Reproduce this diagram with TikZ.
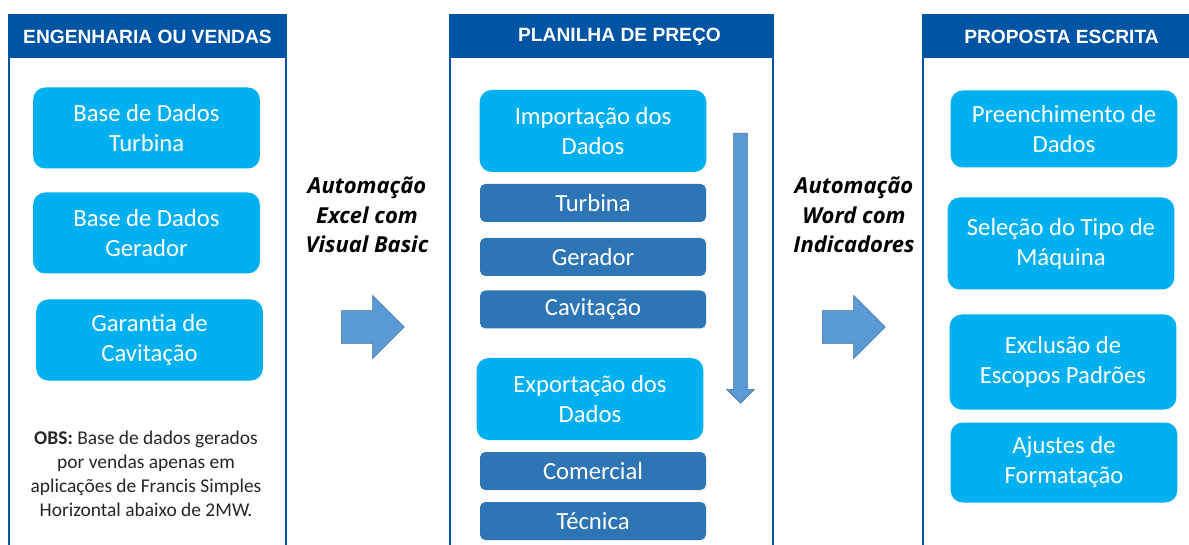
\documentclass[tikz,border=0pt]{standalone}
\usepackage{fontspec}
\setmainfont{Carlito}
\newfontfamily\headfont{Liberation Sans}
\newfontfamily\autofont{Open Sans}
\usepackage{tikz}
\usetikzlibrary{shapes, arrows, positioning}

\definecolor{hdblue}{RGB}{0,84,164}
\definecolor{lightbox}{RGB}{0,176,240}
\definecolor{darkbox}{RGB}{46,117,182}
\definecolor{arrowfill}{RGB}{91,155,213}
\definecolor{arrowline}{RGB}{65,113,156}

\begin{document}
\begin{tikzpicture}[
  x=0.75pt, y=-0.75pt,
  panel/.style={draw=hdblue, line width=1.8pt},
  headnode/.style={fill=hdblue, text=white, inner sep=0pt, minimum height=33pt, font=\headfont\bfseries\fontsize{14.4}{16}\selectfont},
  lbox/.style={fill=lightbox, text=white, rounded corners=9pt, minimum width=170pt, inner sep=0pt, align=center, font=\fontsize{18.5}{22.5}\selectfont},
  dbox/.style={fill=darkbox, text=white, rounded corners=4pt, minimum width=169.5pt, minimum height=28.5pt, inner sep=0pt, font=\fontsize{18.5}{22.5}\selectfont},
  bigarrow/.style={single arrow, fill=arrowfill, draw=arrowline, line width=0.4pt, inner sep=12pt, single arrow head extend=11.6pt, minimum height=47.25pt},
  autotext/.style={font=\autofont\bfseries\itshape\fontsize{16.5}{22}\selectfont, align=center},
  obstext/.style={font=\fontsize{14.6}{18}\selectfont, text=black!85, align=center}
]
\clip (0,0) rectangle (1189,545);

% panels
\draw[panel] (9,15) rectangle (286,560);
\draw[panel] (450,15) rectangle (773,560);
\draw[panel] (923,15) rectangle (1200,560);

\node[headnode, minimum width=207.75pt] (HeadEng) at (147.5,36.5) {ENGENHARIA OU VENDAS};
\node[headnode, minimum width=242.25pt] (HeadPlan) at (611.5,36.5) {\hspace{12pt}PLANILHA DE PREÇO};
\node[headnode, minimum width=207.75pt] (HeadProp) at (1061.5,36.5) {PROPOSTA ESCRITA};

% engenharia ou vendas
\node[lbox, minimum height=60.75pt] (BaseTurb) at (146.5,128) {Base de Dados\\Turbina};
\node[lbox, minimum height=60.75pt] (BaseGer)  at (146.5,233) {Base de Dados\\Gerador};
\node[lbox, minimum height=60.75pt] (GarCav)   at (149.5,340) {Garantia de\\Cavitação};
\node[obstext] (Obs) at (146,474) {\textbf{OBS:} Base de dados gerados\\por vendas apenas em\\aplicações de Francis Simples\\Horizontal abaixo de 2MW.};

% planilha de preco
\node[lbox, minimum height=61.5pt] (Import) at (593,131) {Importação dos\\Dados};
\node[dbox] (Turb) at (593,203)   {Turbina};
\node[dbox] (Ger)  at (593,257)   {Gerador};
\node[dbox] (Cav)  at (593,309.5) {Cavitação};
\node[lbox, minimum height=61.5pt] (Export) at (590,399) {Exportação dos\\Dados};
\node[dbox] (Com) at (593,471) {Comercial};
\node[dbox] (Tec) at (593,521) {Técnica};

\node[single arrow, fill=arrowfill, draw=arrowline, line width=0.4pt, inner sep=4.9pt,
  single arrow head extend=5.25pt, minimum height=202.5pt, rotate=-90, anchor=tail] (FlowDown) at (740.5,133) {};

% proposta escrita
\node[lbox, minimum height=57.75pt] (Preench) at (1064,129) {Preenchimento de\\Dados};
\node[lbox, minimum height=69pt]    (Selec)   at (1061,243.5) {Seleção do Tipo de\\Máquina};
\node[lbox, minimum height=71.25pt] (Exclus)  at (1063,362) {Exclusão de\\Escopos Padrões};
\node[lbox, minimum height=60pt]    (Ajust)   at (1064,462.5) {Ajustes de\\Formatação};

% automacao
\node[autotext] (AutoExcel) at (367,215) {Automação\\Excel com\\Visual Basic};
\node[bigarrow, anchor=tail] (ArrExcel) at (341,327) {};
\node[autotext] (AutoWord) at (854,215) {Automação\\Word com\\Indicadores};
\node[bigarrow, anchor=tail] (ArrWord) at (822,327) {};

\end{tikzpicture}
\end{document}
